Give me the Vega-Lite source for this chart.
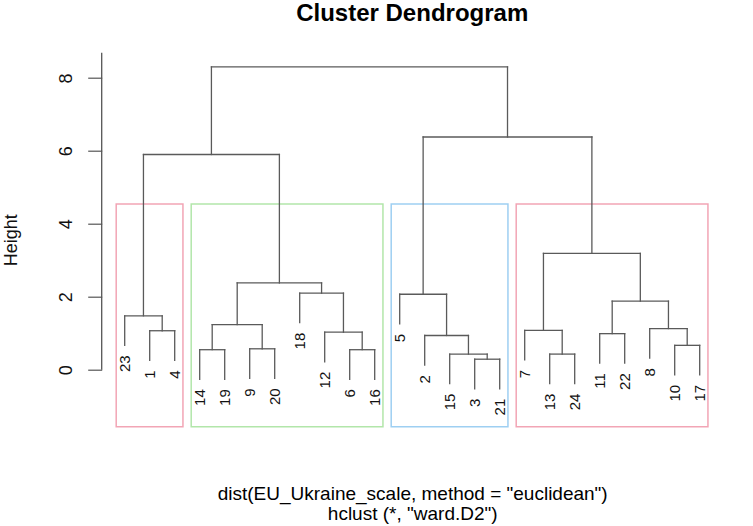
{
  "$schema": "https://vega.github.io/schema/vega-lite/v6.json",
  "width": 621,
  "height": 374,
  "autosize": {"type": "none"},
  "padding": {"left": 101.7, "top": 52.7, "right": 30.3, "bottom": 99.3},
  "background": "white",
  "config": {"view": {"stroke": null}, "font": "Liberation Sans"},
  "title": {"text": "Cluster Dendrogram", "fontSize": 24, "fontWeight": "bold", "font": "Liberation Sans", "color": "#000000", "anchor": "middle", "frame": "group", "offset": 26},
  "datasets": {
    "merges": [
      {"node": "A", "xl": 2, "xr": 3, "hl": 0.26, "hr": 0.26, "h": 1.07},
      {"node": "B", "xl": 1, "xr": 2.5, "hl": 0.67, "hr": 1.07, "h": 1.48},
      {"node": "C", "xl": 4, "xr": 5, "hl": -0.26, "hr": -0.26, "h": 0.55},
      {"node": "D", "xl": 6, "xr": 7, "hl": -0.235, "hr": -0.235, "h": 0.575},
      {"node": "E", "xl": 4.5, "xr": 6.5, "hl": 0.55, "hr": 0.575, "h": 1.24},
      {"node": "F", "xl": 10, "xr": 11, "hl": -0.26, "hr": -0.26, "h": 0.55},
      {"node": "G", "xl": 9, "xr": 10.5, "hl": 0.22, "hr": 0.55, "h": 1.03},
      {"node": "H", "xl": 8, "xr": 9.75, "hl": 1.29, "hr": 1.03, "h": 2.10},
      {"node": "I", "xl": 5.5, "xr": 8.875, "hl": 1.24, "hr": 2.10, "h": 2.38},
      {"node": "J", "xl": 1.75, "xr": 7.1875, "hl": 1.48, "hr": 2.38, "h": 5.90},
      {"node": "K", "xl": 15, "xr": 16, "hl": -0.52, "hr": -0.52, "h": 0.29},
      {"node": "L", "xl": 14, "xr": 15.5, "hl": -0.38, "hr": 0.29, "h": 0.43},
      {"node": "M", "xl": 13, "xr": 14.75, "hl": 0.13, "hr": 0.43, "h": 0.94},
      {"node": "N", "xl": 12, "xr": 13.875, "hl": 1.26, "hr": 0.94, "h": 2.07},
      {"node": "O", "xl": 18, "xr": 19, "hl": -0.38, "hr": -0.38, "h": 0.43},
      {"node": "P", "xl": 17, "xr": 18.5, "hl": 0.27, "hr": 0.43, "h": 1.08},
      {"node": "Q", "xl": 20, "xr": 21, "hl": 0.18, "hr": 0.18, "h": 0.99},
      {"node": "R", "xl": 23, "xr": 24, "hl": -0.14, "hr": -0.14, "h": 0.67},
      {"node": "S", "xl": 22, "xr": 23.5, "hl": 0.32, "hr": 0.67, "h": 1.13},
      {"node": "T", "xl": 20.5, "xr": 22.75, "hl": 0.99, "hr": 1.13, "h": 1.88},
      {"node": "U", "xl": 17.75, "xr": 21.625, "hl": 1.08, "hr": 1.88, "h": 3.19},
      {"node": "V", "xl": 12.9375, "xr": 19.6875, "hl": 2.07, "hr": 3.19, "h": 6.38},
      {"node": "W", "xl": 4.46875, "xr": 16.3125, "hl": 5.90, "hr": 6.38, "h": 8.30}
    ],
    "leaves": [
      {"idx": 1, "label": "23", "end": 0.67},
      {"idx": 2, "label": "1", "end": 0.26},
      {"idx": 3, "label": "4", "end": 0.26},
      {"idx": 4, "label": "14", "end": -0.26},
      {"idx": 5, "label": "19", "end": -0.26},
      {"idx": 6, "label": "9", "end": -0.235},
      {"idx": 7, "label": "20", "end": -0.235},
      {"idx": 8, "label": "18", "end": 1.29},
      {"idx": 9, "label": "12", "end": 0.22},
      {"idx": 10, "label": "6", "end": -0.26},
      {"idx": 11, "label": "16", "end": -0.26},
      {"idx": 12, "label": "5", "end": 1.26},
      {"idx": 13, "label": "2", "end": 0.13},
      {"idx": 14, "label": "15", "end": -0.38},
      {"idx": 15, "label": "3", "end": -0.52},
      {"idx": 16, "label": "21", "end": -0.52},
      {"idx": 17, "label": "7", "end": 0.27},
      {"idx": 18, "label": "13", "end": -0.38},
      {"idx": 19, "label": "24", "end": -0.38},
      {"idx": 20, "label": "11", "end": 0.18},
      {"idx": 21, "label": "22", "end": 0.18},
      {"idx": 22, "label": "8", "end": 0.32},
      {"idx": 23, "label": "10", "end": -0.14},
      {"idx": 24, "label": "17", "end": -0.14}
    ],
    "boxes": [
      {"cluster": "1", "left": 0.66, "right": 3.33, "bottom": -1.56, "top": 4.545},
      {"cluster": "2", "left": 3.66, "right": 11.33, "bottom": -1.56, "top": 4.545},
      {"cluster": "3", "left": 11.66, "right": 16.33, "bottom": -1.56, "top": 4.545},
      {"cluster": "4", "left": 16.66, "right": 24.33, "bottom": -1.56, "top": 4.545}
    ],
    "yaxisline": [
      {"x": 0.08, "from": 0, "to": 8.69}
    ]
  },
  "layer": [
    {
      "data": {"name": "boxes"},
      "mark": {"type": "rect", "filled": false, "strokeWidth": 1.5},
      "encoding": {
        "x": {"field": "left", "type": "quantitative",
              "scale": {"domain": [0.08, 24.92], "nice": false, "zero": false},
              "axis": {"title": ["dist(EU_Ukraine_scale, method = \"euclidean\")", "hclust (*, \"ward.D2\")"],
                       "labels": false, "ticks": false, "domain": false, "grid": false,
                       "titleFontSize": 19, "titleFontWeight": "normal", "titleColor": "#000000",
                       "titleFont": "Liberation Sans", "titleBaseline": "alphabetic",
                       "titlePadding": 73, "titleLineHeight": 19.5}},
        "x2": {"field": "right"},
        "y": {"field": "bottom", "type": "quantitative",
              "scale": {"domain": [-1.56, 8.69], "nice": false, "zero": false},
              "axis": {"values": [0, 2, 4, 6, 8], "title": "Height", "grid": false, "domain": false,
                       "tickSize": 14, "tickColor": "#555555", "tickWidth": 1.2,
                       "labelAngle": 270, "labelAlign": "center", "labelBaseline": "alphabetic",
                       "labelPadding": 16, "labelFontSize": 18, "labelColor": "#111111",
                       "labelFont": "Liberation Sans", "format": "d",
                       "titleFontSize": 18, "titleFontWeight": "normal", "titleColor": "#111111",
                       "titleFont": "Liberation Sans", "titlePadding": 37}},
        "y2": {"field": "top"},
        "stroke": {"field": "cluster", "type": "nominal",
                   "scale": {"domain": ["1", "2", "3", "4"], "range": ["#F2A5B5", "#B2E6AA", "#9ECFF2", "#F2A5B5"]},
                   "legend": null}
      }
    },
    {
      "data": {"name": "merges"},
      "mark": {"type": "rule", "color": "#5a5a5a", "strokeWidth": 1.3, "strokeCap": "square"},
      "encoding": {
        "x": {"field": "xl", "type": "quantitative", "scale": {"domain": [0.08, 24.92], "nice": false, "zero": false}},
        "x2": {"field": "xr"},
        "y": {"field": "h", "type": "quantitative", "scale": {"domain": [-1.56, 8.69], "nice": false, "zero": false}}
      }
    },
    {
      "data": {"name": "merges"},
      "mark": {"type": "rule", "color": "#5a5a5a", "strokeWidth": 1.3, "strokeCap": "square"},
      "encoding": {
        "x": {"field": "xl", "type": "quantitative", "scale": {"domain": [0.08, 24.92], "nice": false, "zero": false}},
        "y": {"field": "hl", "type": "quantitative", "scale": {"domain": [-1.56, 8.69], "nice": false, "zero": false}},
        "y2": {"field": "h"}
      }
    },
    {
      "data": {"name": "merges"},
      "mark": {"type": "rule", "color": "#5a5a5a", "strokeWidth": 1.3, "strokeCap": "square"},
      "encoding": {
        "x": {"field": "xr", "type": "quantitative", "scale": {"domain": [0.08, 24.92], "nice": false, "zero": false}},
        "y": {"field": "hr", "type": "quantitative", "scale": {"domain": [-1.56, 8.69], "nice": false, "zero": false}},
        "y2": {"field": "h"}
      }
    },
    {
      "data": {"name": "leaves"},
      "mark": {"type": "text", "angle": 270, "align": "right", "baseline": "middle", "dx": -10, "fontSize": 15, "font": "Liberation Sans", "color": "#111111"},
      "encoding": {
        "x": {"field": "idx", "type": "quantitative", "scale": {"domain": [0.08, 24.92], "nice": false, "zero": false}},
        "y": {"field": "end", "type": "quantitative", "scale": {"domain": [-1.56, 8.69], "nice": false, "zero": false}},
        "text": {"field": "label", "type": "nominal"}
      }
    },
    {
      "data": {"name": "yaxisline"},
      "mark": {"type": "rule", "color": "#555555", "strokeWidth": 1.3},
      "encoding": {
        "x": {"field": "x", "type": "quantitative", "scale": {"domain": [0.08, 24.92], "nice": false, "zero": false}},
        "y": {"field": "from", "type": "quantitative", "scale": {"domain": [-1.56, 8.69], "nice": false, "zero": false}},
        "y2": {"field": "to"}
      }
    }
  ]
}
